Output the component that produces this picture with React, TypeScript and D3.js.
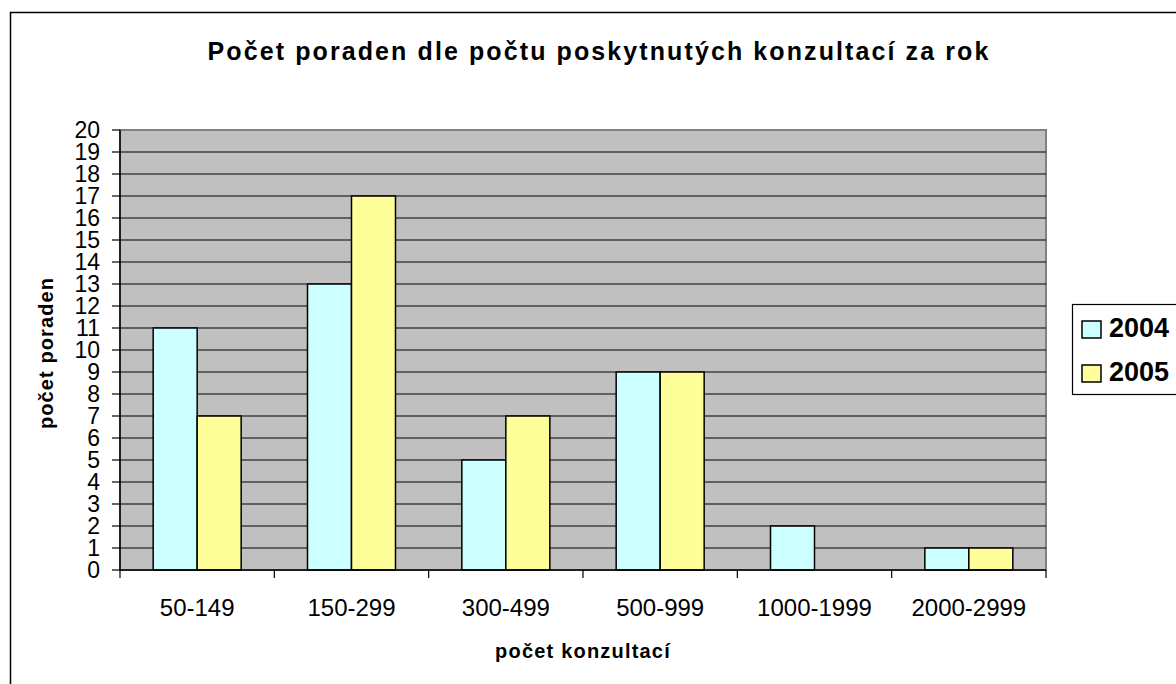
import React from "react";
import * as d3 from "d3";

const categories = ["50-149", "150-299", "300-499", "500-999", "1000-1999", "2000-2999"];
const seriesNames = ["2004", "2005"];
const values2004 = [11, 13, 5, 9, 2, 1];
const values2005 = [7, 17, 7, 9, 0, 1];
const seriesColors = ["#CCFFFF", "#FFFF99"];
const yTicks = d3.range(0, 21);

const W = 1176;
const H = 684;
const plot = { left: 120, top: 130, right: 1046, bottom: 570 };

export default function App() {
  const x = d3.scaleBand<string>().domain(categories).range([plot.left, plot.right]).paddingInner(0).paddingOuter(0);
  const inner = d3.scaleBand<string>().domain(seriesNames).range([0, x.bandwidth()]).paddingInner(0).paddingOuter(0.754);
  const y = d3.scaleLinear().domain([0, 20]).range([plot.bottom, plot.top]);
  const series = [values2004, values2005];
  const font = "Liberation Sans, Arial, sans-serif";

  return (
    <div style={{ position: "absolute", left: 0, top: 0 }}>
      <svg width={W} height={H} style={{ display: "block" }} fontFamily={font}>
        <rect x={0} y={0} width={W} height={H} fill="#fff" />
        <rect x={10.5} y={12.5} width={1300} height={800} fill="#fff" stroke="#000" strokeWidth={1.5} />
        <text x={599} y={60} textAnchor="middle" fontSize={25} fontWeight="bold" letterSpacing={2.1}>
          Počet poraden dle počtu poskytnutých konzultací za rok
        </text>
        <rect x={plot.left} y={plot.top} width={plot.right - plot.left} height={plot.bottom - plot.top} fill="#C0C0C0" stroke="#808080" strokeWidth={2} />
        {yTicks.map((t) => (
          <g key={t}>
            {t > 0 && t < 20 && <line x1={plot.left} x2={plot.right} y1={y(t)} y2={y(t)} stroke="#000" strokeWidth={1.2} />}
            <line x1={plot.left - 8} x2={plot.left} y1={y(t)} y2={y(t)} stroke="#000" strokeWidth={1.2} />
            <text x={plot.left - 20} y={y(t)} dy="0.36em" textAnchor="end" fontSize={23}>{t}</text>
          </g>
        ))}
        {categories.map((c, i) => (
          <g key={c}>
            {series.map((vals, s) => (
              vals[i] > 0 ? (
                <rect key={s} x={(x(c) as number) + (inner(seriesNames[s]) as number)} y={y(vals[i])} width={inner.bandwidth()} height={y(0) - y(vals[i])} fill={seriesColors[s]} stroke="#000" strokeWidth={1.5} />
              ) : null
            ))}
            <text x={(x(c) as number) + x.bandwidth() / 2} y={616} textAnchor="middle" fontSize={24}>{c}</text>
          </g>
        ))}
        {categories.concat([""]).map((c, i) => {
          const xx = plot.left + i * x.bandwidth();
          return <line key={i} x1={xx} x2={xx} y1={plot.bottom} y2={plot.bottom + 8} stroke="#000" strokeWidth={1.2} />;
        })}
        <line x1={plot.left} x2={plot.left} y1={plot.top} y2={plot.bottom} stroke="#000" strokeWidth={1.5} />
        <line x1={plot.left} x2={plot.right} y1={plot.bottom} y2={plot.bottom} stroke="#000" strokeWidth={1.5} />
        <text x={583} y={658} textAnchor="middle" fontSize={20} fontWeight="bold" letterSpacing={1.2}>počet konzultací</text>
        <text transform={`translate(53,353) rotate(-90)`} textAnchor="middle" fontSize={20} fontWeight="bold" letterSpacing={1.1}>počet poraden</text>
        <rect x={1072.5} y={304.5} width={200} height={90} fill="#fff" stroke="#000" strokeWidth={1.2} />
        {seriesNames.map((n, s) => (
          <g key={n}>
            <rect x={1082} y={321 + s * 44} width={19} height={17} fill={seriesColors[s]} stroke="#000" strokeWidth={1.5} />
            <text x={1109} y={337 + s * 44} fontSize={27} fontWeight="bold">{n}</text>
          </g>
        ))}
      </svg>
    </div>
  );
}
